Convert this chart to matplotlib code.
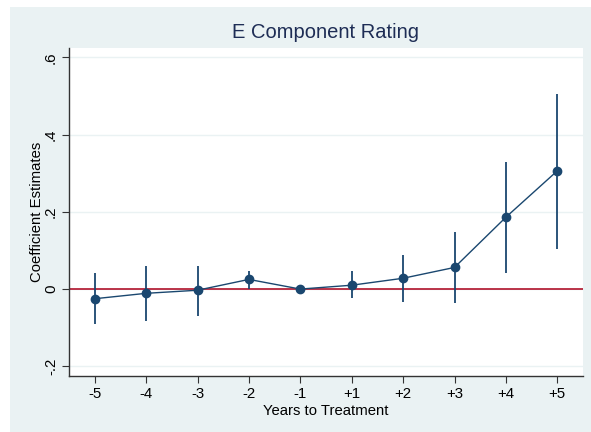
import matplotlib
matplotlib.use("Agg")
import matplotlib.pyplot as plt
from matplotlib.patches import Rectangle

plt.rcParams['font.family'] = ['Liberation Sans', 'DejaVu Sans']

tick_labels = ["-5", "-4", "-3", "-2", "-1", "+1", "+2", "+3", "+4", "+5"]
coef = [-0.025, -0.011, -0.003, 0.025, 0.0, 0.010, 0.028, 0.056, 0.186, 0.306]
ci_low = [-0.091, -0.082, -0.069, 0.001, None, -0.024, -0.033, -0.035, 0.042, 0.104]
ci_high = [0.042, 0.061, 0.061, 0.048, None, 0.047, 0.088, 0.148, 0.328, 0.506]
y_ticks = [-0.2, 0.0, 0.2, 0.4, 0.6]
y_tick_labels = ["-.2", "0", ".2", ".4", ".6"]

W, H = 591, 432
fig = plt.figure(figsize=(W/100, H/100), dpi=100, facecolor="white")
bg = "#eaf2f3"
fig.patches.append(Rectangle((10/W, 0), 1 - 10/W, 1 - 7/H, transform=fig.transFigure,
                             facecolor=bg, edgecolor="none", zorder=-10))

l, r, t, b = 69, 583, 48, 376
ax = fig.add_axes([l/W, 1 - b/H, (r-l)/W, (b-t)/H])
ax.set_facecolor("white")

navy = "#1a476f"
x = list(range(1, len(coef) + 1))
for xi, lo, hi in zip(x, ci_low, ci_high):
    if lo is not None:
        ax.plot([xi, xi], [lo, hi], color=navy, lw=1.3, solid_capstyle="butt", zorder=3)
ax.axhline(0, color="#b0122b", lw=1.2, zorder=2)
ax.plot(x, coef, color=navy, lw=1.0, marker="o", markersize=6, zorder=4)

ax.set_xlim(0.5, 10.5)
ax.set_ylim(-0.225, 0.624)
ax.set_xticks(x)
ax.set_xticklabels(tick_labels)
ax.set_yticks(y_ticks)
ax.set_yticklabels(y_tick_labels, rotation=90, va="center")
ax.grid(axis="y", color=bg, lw=1.0, zorder=0)
ax.set_axisbelow(True)
for s in ["top", "right"]:
    ax.spines[s].set_visible(False)
for s in ["left", "bottom"]:
    ax.spines[s].set_color("#333333")
    ax.spines[s].set_linewidth(1.0)
ax.tick_params(axis="both", direction="out", length=5, width=0.8, color="#333333",
               labelsize=10.8, labelcolor="black", pad=3)

ax.set_xlabel("Years to Treatment", fontsize=10.7, labelpad=2)
ax.set_ylabel("Coefficient Estimates", fontsize=10.7, labelpad=0)
ax.set_title("E Component Rating", fontsize=14.5, color="#1e2d55", pad=7)

fig.savefig("out.png", dpi=100, facecolor=fig.get_facecolor())
